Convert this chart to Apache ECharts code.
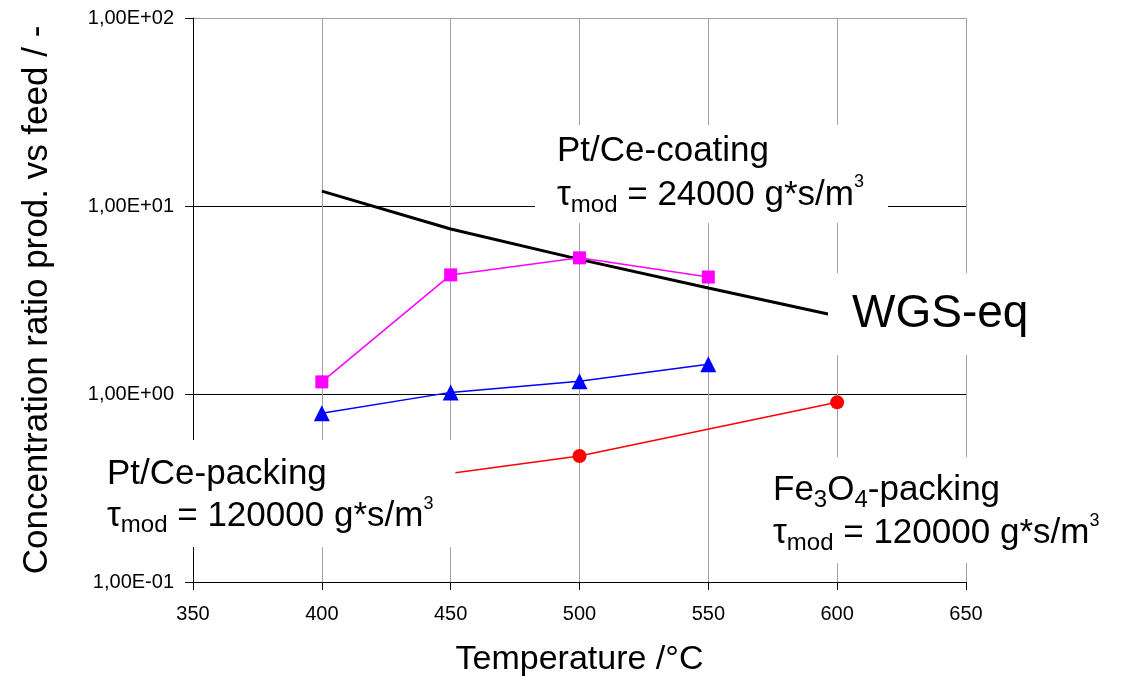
<!DOCTYPE html>
<html>
<head>
<meta charset="utf-8">
<script src="https://cdn.jsdelivr.net/npm/echarts@6/dist/echarts.min.js"></script>
<style>html,body{margin:0;padding:0;background:#fff}#c{width:1122px;height:677px}</style>
</head>
<body>
<div id="c"></div>
<script>
// ---- data ----
var wgsTemps = [400, 450, 500, 550, 600];
var wgsValues = [12.0, 7.55, 5.2, 3.66, 2.6];
var coatingTemps = [400, 450, 500, 550];
var coatingValues = [1.16, 4.3, 5.3, 4.19];
var ptPackingTemps = [400, 450, 500, 550];
var ptPackingValues = [0.79, 1.02, 1.17, 1.44];
var fePackingTemps = [400, 500, 600];
var fePackingValues = [0.306, 0.468, 0.903];
var xTicks = [350, 400, 450, 500, 550, 600, 650];
var yTickLabels = {'-1': '1,00E-01', '0': '1,00E+00', '1': '1,00E+01', '2': '1,00E+02'};

function pairs(xs, ys) { return xs.map(function (x, i) { return [x, ys[i]]; }); }

var FONT = 'Liberation Sans, Arial, sans-serif';
var chart = echarts.init(document.getElementById('c'), null, {renderer: 'canvas'});

function richFor(lh, subLh, supLh) {
  return {
    n: {fontSize: 35, fontFamily: FONT, color: '#000', lineHeight: lh, verticalAlign: 'middle'},
    sub: {fontSize: 24, fontFamily: FONT, color: '#000', lineHeight: subLh, verticalAlign: 'bottom'},
    sup: {fontSize: 18, fontFamily: FONT, color: '#000', lineHeight: supLh, verticalAlign: 'top'}
  };
}

var option = {
  animation: false,
  backgroundColor: '#fff',
  grid: {left: 193, right: 156, top: 18, bottom: 95, containLabel: false, outerBoundsMode: 'none'},
  xAxis: {
    type: 'value', min: xTicks[0], max: xTicks[xTicks.length - 1], interval: 50,
    name: 'Temperature /°C', nameLocation: 'middle', nameGap: 61,
    nameTextStyle: {fontSize: 34, fontFamily: FONT, color: '#000'},
    axisLine: {show: true, lineStyle: {color: '#000', width: 1}},
    axisTick: {show: true, length: 8, inside: false, lineStyle: {color: '#000'}},
    axisLabel: {fontSize: 20, fontFamily: FONT, color: '#000', margin: 22},
    splitLine: {show: true, lineStyle: {color: '#a0a0a0', width: 1}}
  },
  yAxis: {
    type: 'log', logBase: 10, min: 0.1, max: 100,
    name: 'Concentration ratio prod. vs feed / -', nameLocation: 'middle', nameGap: 138,
    nameTextStyle: {fontSize: 35, fontFamily: FONT, color: '#000'},
    axisLine: {show: true, lineStyle: {color: '#000', width: 1}},
    axisTick: {show: true, length: 8, inside: false, lineStyle: {color: '#000'}},
    minorTick: {show: false},
    axisLabel: {
      fontSize: 20, fontFamily: FONT, color: '#000', margin: 19,
      formatter: function (v) { var e = Math.round(Math.log10(v)); return yTickLabels[String(e)] || ''; }
    },
    splitLine: {show: true, lineStyle: {color: ['#000', '#000', '#000', '#a0a0a0'], width: 1}}
  },
  series: [
    {
      name: 'WGS-eq', type: 'line', data: pairs(wgsTemps, wgsValues),
      showSymbol: false, symbol: 'none', z: 3,
      lineStyle: {color: '#000', width: 3}, emphasis: {disabled: true}
    },
    {
      name: 'Pt/Ce-coating', type: 'line', data: pairs(coatingTemps, coatingValues),
      symbol: 'rect', symbolSize: 13, z: 4,
      lineStyle: {color: '#ff00ff', width: 1.5}, itemStyle: {color: '#ff00ff'}, emphasis: {disabled: true}
    },
    {
      name: 'Pt/Ce-packing', type: 'line', data: pairs(ptPackingTemps, ptPackingValues),
      symbol: 'triangle', symbolSize: 16, z: 4,
      lineStyle: {color: '#0000ff', width: 1.5}, itemStyle: {color: '#0000ff'}, emphasis: {disabled: true}
    },
    {
      name: 'Fe3O4-packing', type: 'line', data: pairs(fePackingTemps, fePackingValues),
      symbol: 'circle', symbolSize: 14, z: 4,
      lineStyle: {color: '#ff0000', width: 1.5}, itemStyle: {color: '#ff0000'}, emphasis: {disabled: true}
    }
  ],
  graphic: [
    {
      type: 'text', x: 535, y: 125, z: 100, silent: true,
      style: {
        text: '{n|Pt/Ce-coating}\n{n|τ}{sub|mod}{n| = 24000 g*s/m}{sup|3}',
        rich: richFor(44, 25, 31), backgroundColor: '#fff',
        padding: [4, 24, 6, 22], align: 'left', verticalAlign: 'top'
      }
    },
    {
      type: 'text', x: 100, y: 440, z: 100, silent: true,
      style: {
        text: '{n|Pt/Ce-packing}\n{n|τ}{sub|mod}{n| = 120000 g*s/m}{sup|3}',
        rich: richFor(42, 24, 30), backgroundColor: '#fff',
        padding: [13, 22, 10, 7], align: 'left', verticalAlign: 'top'
      }
    },
    {
      type: 'text', x: 760, y: 457, z: 100, silent: true,
      style: {
        text: '{n|Fe}{sub|3}{n|O}{sub|4}{n|-packing}\n{n|τ}{sub|mod}{n| = 120000 g*s/m}{sup|3}',
        rich: richFor(43, 24, 30), backgroundColor: '#fff',
        padding: [12, 12, 8, 13], align: 'left', verticalAlign: 'top'
      }
    },
    {
      type: 'text', x: 828, y: 273, z: 100, silent: true,
      style: {
        text: 'WGS-eq', fontSize: 46, fontFamily: FONT, fill: '#000', lineHeight: 46,
        backgroundColor: '#fff', padding: [18, 10, 18, 24], align: 'left', verticalAlign: 'top'
      }
    }
  ]
};
chart.setOption(option);
</script>
</body>
</html>
